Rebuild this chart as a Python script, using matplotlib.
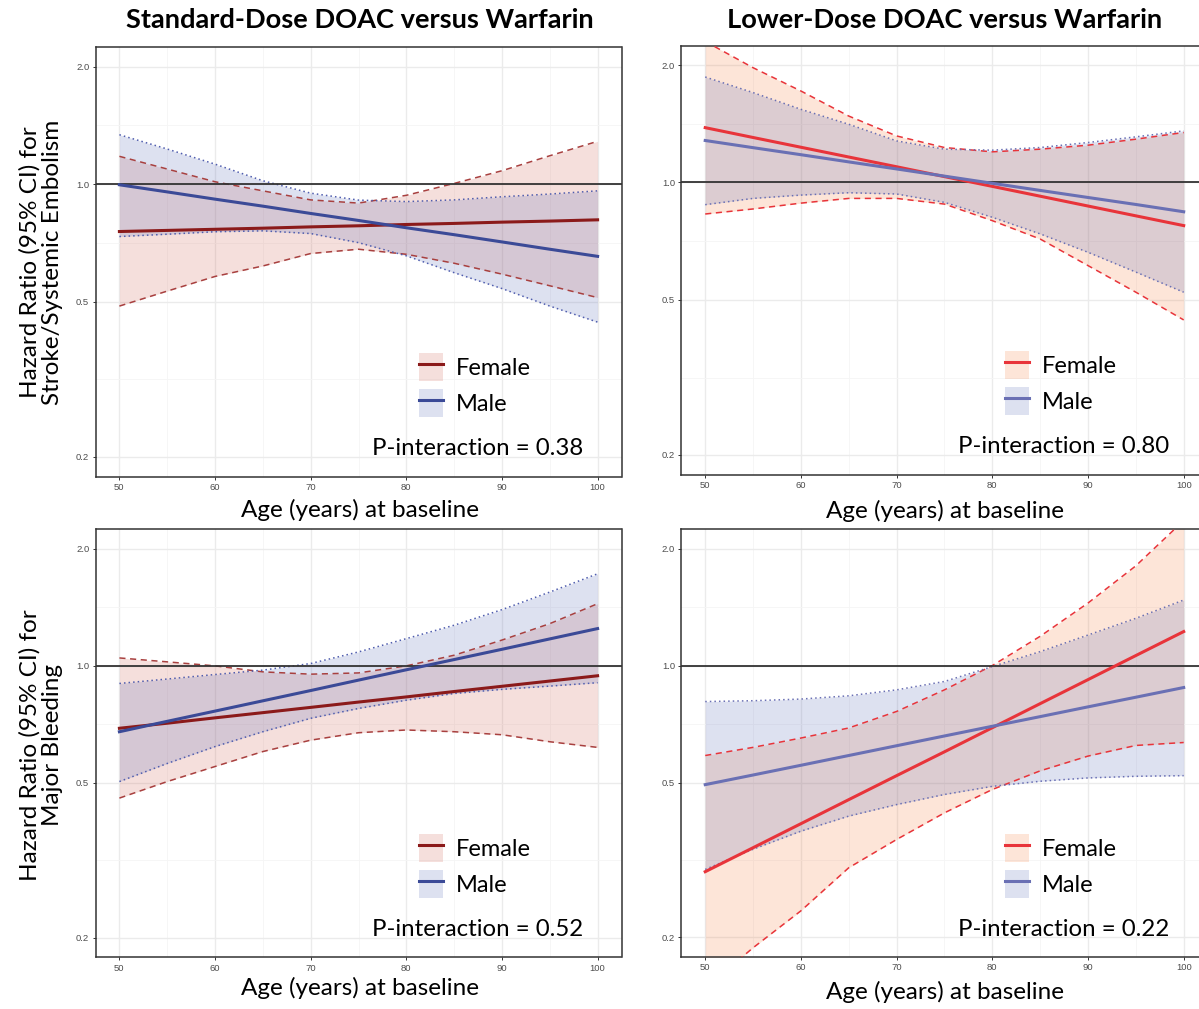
import matplotlib
matplotlib.use('Agg')
import matplotlib.pyplot as plt
from matplotlib.patches import Patch
from matplotlib.lines import Line2D
from matplotlib.ticker import FixedLocator, NullFormatter

plt.rcParams['font.family'] = ['Lato', 'DejaVu Sans']

age = [50, 55, 60, 65, 70, 75, 80, 85, 90, 95, 100]

# standard dose, stroke/systemic embolism
sd_stroke_f = [0.756, 0.761, 0.766, 0.771, 0.777, 0.782, 0.788, 0.793, 0.799, 0.804, 0.810]
sd_stroke_f_lo = [0.487, 0.532, 0.580, 0.617, 0.664, 0.681, 0.661, 0.627, 0.588, 0.549, 0.512]
sd_stroke_f_hi = [1.178, 1.093, 1.014, 0.961, 0.911, 0.894, 0.936, 1.004, 1.082, 1.182, 1.287]
sd_stroke_m = [0.996, 0.955, 0.915, 0.878, 0.841, 0.807, 0.773, 0.742, 0.711, 0.681, 0.653]
sd_stroke_m_lo = [0.734, 0.744, 0.755, 0.759, 0.747, 0.708, 0.655, 0.593, 0.540, 0.487, 0.443]
sd_stroke_m_hi = [1.338, 1.230, 1.125, 1.020, 0.948, 0.910, 0.902, 0.911, 0.928, 0.943, 0.961]

# lower dose, stroke/systemic embolism
ld_stroke_f = [1.382, 1.304, 1.231, 1.162, 1.097, 1.035, 0.977, 0.922, 0.870, 0.821, 0.775]
ld_stroke_f_lo = [0.830, 0.855, 0.885, 0.910, 0.910, 0.880, 0.798, 0.716, 0.612, 0.523, 0.444]
ld_stroke_f_hi = [2.300, 1.969, 1.716, 1.480, 1.316, 1.229, 1.198, 1.217, 1.246, 1.291, 1.343]
ld_stroke_m = [1.281, 1.228, 1.178, 1.129, 1.083, 1.038, 0.995, 0.954, 0.915, 0.878, 0.841]
ld_stroke_m_lo = [0.877, 0.910, 0.928, 0.941, 0.934, 0.889, 0.814, 0.738, 0.662, 0.589, 0.523]
ld_stroke_m_hi = [1.864, 1.700, 1.540, 1.410, 1.278, 1.217, 1.210, 1.229, 1.266, 1.309, 1.356]

# standard dose, major bleeding
sd_bleed_f = [0.691, 0.712, 0.735, 0.758, 0.782, 0.807, 0.832, 0.859, 0.886, 0.914, 0.943]
sd_bleed_f_lo = [0.457, 0.504, 0.551, 0.602, 0.644, 0.673, 0.684, 0.677, 0.665, 0.638, 0.617]
sd_bleed_f_hi = [1.048, 1.024, 1.000, 0.965, 0.952, 0.959, 1.000, 1.065, 1.165, 1.284, 1.445]
sd_bleed_m = [0.677, 0.720, 0.765, 0.813, 0.864, 0.919, 0.977, 1.038, 1.103, 1.173, 1.247]
sd_bleed_m_lo = [0.504, 0.561, 0.620, 0.677, 0.733, 0.777, 0.816, 0.849, 0.870, 0.887, 0.905]
sd_bleed_m_hi = [0.901, 0.925, 0.950, 0.975, 1.014, 1.086, 1.175, 1.272, 1.395, 1.548, 1.725]

# lower dose, major bleeding
ld_bleed_f = [0.295, 0.340, 0.392, 0.452, 0.521, 0.600, 0.692, 0.798, 0.920, 1.061, 1.223]
ld_bleed_f_lo = [0.148, 0.188, 0.234, 0.302, 0.357, 0.418, 0.480, 0.536, 0.585, 0.623, 0.634]
ld_bleed_f_hi = [0.587, 0.616, 0.651, 0.691, 0.762, 0.866, 1.000, 1.189, 1.448, 1.805, 2.360]
ld_bleed_m = [0.494, 0.523, 0.554, 0.587, 0.622, 0.659, 0.698, 0.739, 0.783, 0.829, 0.878]
ld_bleed_m_lo = [0.299, 0.337, 0.375, 0.410, 0.439, 0.466, 0.489, 0.504, 0.514, 0.519, 0.521]
ld_bleed_m_hi = [0.808, 0.812, 0.820, 0.836, 0.866, 0.910, 0.994, 1.086, 1.198, 1.323, 1.474]

p_values = ['0.38', '0.80', '0.52', '0.22']

sd_cols = {'f_line': '#8B1A1A', 'f_ci': '#A8403F', 'f_fill': (0.82, 0.38, 0.33),
           'm_line': '#3B4A97', 'm_ci': '#4F5DAE', 'm_fill': (0.35, 0.41, 0.71)}
ld_cols = {'f_line': '#E8343A', 'f_ci': '#E8343A', 'f_fill': (0.96, 0.49, 0.24),
           'm_line': '#6A70B4', 'm_ci': '#6A70B4', 'm_fill': (0.35, 0.41, 0.71)}

fig = plt.figure(figsize=(11.99, 10.09), dpi=100)
W, H = 1199.0, 1009.0


def make_ax(left, top, right, bottom):
    return fig.add_axes([left / W, 1 - bottom / H, (right - left) / W, (bottom - top) / H])


def panel(ax, f, f_lo, f_hi, m, m_lo, m_hi, cols, pval):
    ax.set_yscale('log')
    ax.fill_between(age, f_lo, f_hi, color=cols['f_fill'], alpha=0.2, lw=0, zorder=2)
    ax.fill_between(age, m_lo, m_hi, color=cols['m_fill'], alpha=0.2, lw=0, zorder=2)
    ax.plot(age, f_lo, color=cols['f_ci'], lw=1.1, dashes=(4, 3), zorder=3)
    ax.plot(age, f_hi, color=cols['f_ci'], lw=1.1, dashes=(4, 3), zorder=3)
    ax.plot(age, m_lo, color=cols['m_ci'], lw=1.1, dashes=(1, 2), zorder=3)
    ax.plot(age, m_hi, color=cols['m_ci'], lw=1.1, dashes=(1, 2), zorder=3)
    ax.axhline(1.0, color='#333333', lw=1.3, zorder=3)
    ax.plot(age, f, color=cols['f_line'], lw=2.2, zorder=4)
    ax.plot(age, m, color=cols['m_line'], lw=2.2, zorder=4)

    ax.set_xlim(47.5, 102.5)
    ax.set_ylim(0.178, 2.245)
    ax.set_xticks([50, 60, 70, 80, 90, 100])
    ax.xaxis.set_minor_locator(FixedLocator([55, 65, 75, 85, 95]))
    ax.set_yticks([0.2, 0.5, 1.0, 2.0])
    ax.set_yticklabels(['0.2', '0.5', '1.0', '2.0'])
    ax.yaxis.set_minor_locator(FixedLocator([0.316, 0.707, 1.414]))
    ax.yaxis.set_minor_formatter(NullFormatter())
    ax.grid(True, which='major', color='#EBEBEB', lw=1.0, zorder=0)
    ax.grid(True, which='minor', color='#F5F5F5', lw=0.6, zorder=0)
    ax.set_axisbelow(True)
    ax.tick_params(which='major', length=2.5, width=0.7, color='#333333',
                   labelsize=6.8, labelcolor='#4D4D4D', pad=2)
    ax.tick_params(which='minor', length=0)
    for lab in ax.get_xticklabels() + ax.get_yticklabels():
        lab.set_family('Liberation Sans')
    for sp in ax.spines.values():
        sp.set_color('#333333')
        sp.set_linewidth(1.1)

    handles = [(Patch(facecolor=cols['f_fill'], alpha=0.2, lw=0),
                Line2D([], [], color=cols['f_line'], lw=2.2)),
               (Patch(facecolor=cols['m_fill'], alpha=0.2, lw=0),
                Line2D([], [], color=cols['m_line'], lw=2.2))]
    ax.legend(handles, ['Female', 'Male'], loc='upper left', bbox_to_anchor=(0.615, 0.288),
              frameon=False, fontsize=17, handlelength=1.0, handleheight=1.45,
              handletextpad=0.55, labelspacing=0.35, borderpad=0, borderaxespad=0)
    ax.text(0.927, 0.05, 'P-interaction = ' + pval, transform=ax.transAxes,
            ha='right', va='baseline', fontsize=17.3)


ax1 = make_ax(95.5, 47, 621.5, 476.7)
ax2 = make_ax(681.3, 45.5, 1207.6, 474.7)
ax3 = make_ax(95.5, 529.3, 621.5, 957.3)
ax4 = make_ax(681.3, 529, 1207.6, 957)

panel(ax1, sd_stroke_f, sd_stroke_f_lo, sd_stroke_f_hi,
      sd_stroke_m, sd_stroke_m_lo, sd_stroke_m_hi, sd_cols, p_values[0])
panel(ax2, ld_stroke_f, ld_stroke_f_lo, ld_stroke_f_hi,
      ld_stroke_m, ld_stroke_m_lo, ld_stroke_m_hi, ld_cols, p_values[1])
panel(ax3, sd_bleed_f, sd_bleed_f_lo, sd_bleed_f_hi,
      sd_bleed_m, sd_bleed_m_lo, sd_bleed_m_hi, sd_cols, p_values[2])
panel(ax4, ld_bleed_f, ld_bleed_f_lo, ld_bleed_f_hi,
      ld_bleed_m, ld_bleed_m_lo, ld_bleed_m_hi, ld_cols, p_values[3])

fig.text(360 / W, 1 - 20 / H, 'Standard-Dose DOAC versus Warfarin', ha='center', va='center',
         fontsize=19.6, fontweight='bold')
fig.text(945 / W, 1 - 20 / H, 'Lower-Dose DOAC versus Warfarin', ha='center', va='center',
         fontsize=19.6, fontweight='bold')

fig.text(360 / W, 1 - 510 / H, 'Age (years) at baseline', ha='center', va='center', fontsize=17.5)
fig.text(945 / W, 1 - 511 / H, 'Age (years) at baseline', ha='center', va='center', fontsize=17.5)
fig.text(360 / W, 1 - 988 / H, 'Age (years) at baseline', ha='center', va='center', fontsize=17.5)
fig.text(945 / W, 1 - 992 / H, 'Age (years) at baseline', ha='center', va='center', fontsize=17.5)

fig.text(41 / W, 1 - 262 / H, 'Hazard Ratio (95% CI) for\nStroke/Systemic Embolism',
         ha='center', va='center', rotation=90, fontsize=17.5, linespacing=1.12)
fig.text(41 / W, 1 - 745 / H, 'Hazard Ratio (95% CI) for\nMajor Bleeding',
         ha='center', va='center', rotation=90, fontsize=17.5, linespacing=1.12)

fig.savefig('out.png', dpi=100)
